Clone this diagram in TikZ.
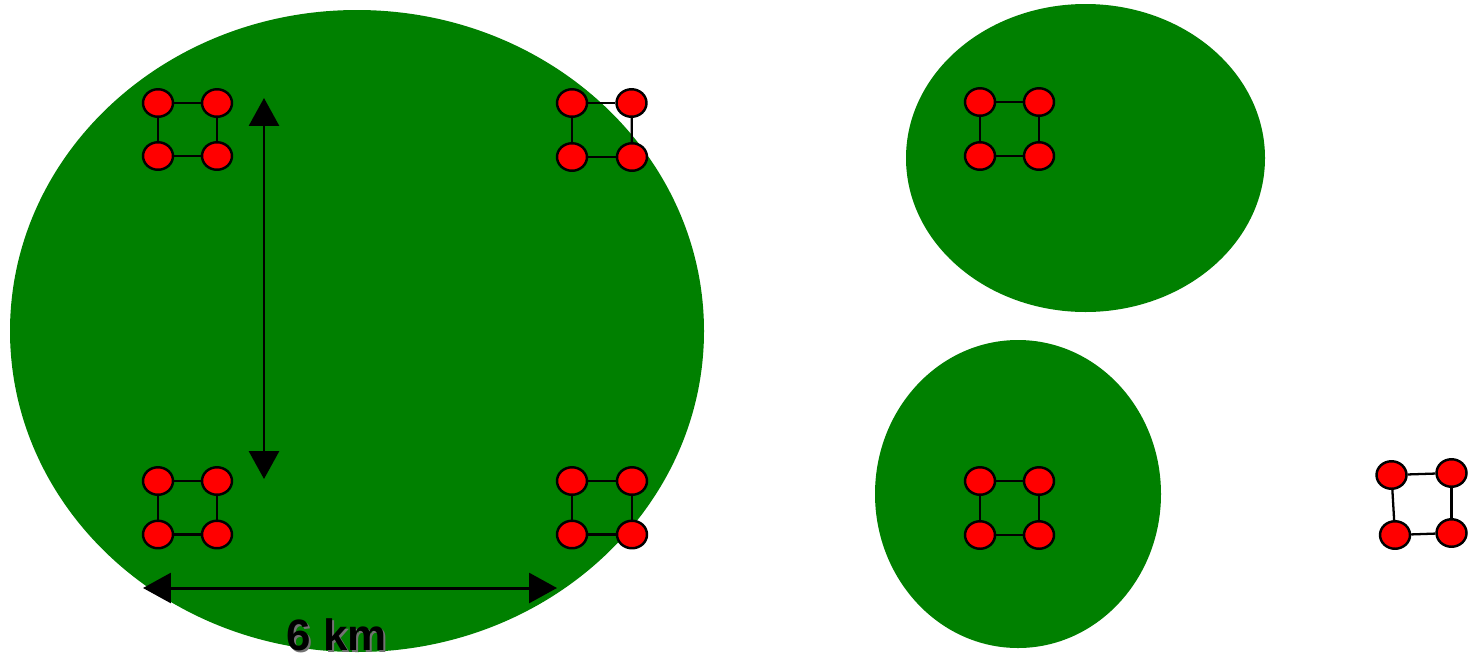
\documentclass[tikz,border=0pt]{standalone}
\usepackage{fontspec}
\setmainfont{Liberation Sans}
\usetikzlibrary{shapes.geometric,arrows.meta}
\definecolor{fieldgreen}{RGB}{0,128,0}
\tikzset{
  field/.style={fill=fieldgreen, draw=none},
  dot/.style={ellipse, draw=black, fill=red, line width=1.4pt, minimum width=0.6cm, minimum height=0.55cm, inner sep=0pt},
  link/.style={draw=black, line width=1.3pt},
  dim/.style={draw=black, line width=1.7pt, {Triangle[length=0.56cm,width=0.6cm]}-{Triangle[length=0.56cm,width=0.6cm]}},
  lbl/.style={font=\fontsize{25}{30}\selectfont\bfseries, inner sep=0pt}
}
\newcommand\mkcluster[9]{%
  \node[dot] (#1a) at (#2,#3) {};
  \node[dot] (#1b) at (#4,#5) {};
  \node[dot] (#1c) at (#6,#7) {};
  \node[dot] (#1d) at (#8,#9) {};
  \draw[link] (#1a) -- (#1b);
  \draw[link] (#1c) -- (#1d);
  \draw[link] (#1a) -- (#1c);
  \draw[link] (#1b) -- (#1d);
}
\begin{document}
\begin{tikzpicture}[x=0.02cm, y=-0.02cm]
\useasboundingbox (0,0) rectangle (1474,660);
% fields
\fill[field] (357,331) ellipse [x radius=347, y radius=321];
\fill[field] (1085.5,158) ellipse [x radius=179.5, y radius=154];
\fill[field] (1018,494) ellipse [x radius=143, y radius=154];
% clusters
\mkcluster{p}{158}{103}{217}{103}{158}{156}{217}{156}
\mkcluster{q}{572}{103}{631.5}{103}{572}{157}{632}{157}
\mkcluster{r}{158}{481}{217}{481}{158}{534.5}{217}{534.5}
\mkcluster{s}{572}{481}{632}{481}{572}{534.5}{632}{534.5}
\mkcluster{t}{980}{102}{1039}{102}{980}{156}{1039}{156}
\mkcluster{u}{980}{481}{1039}{481}{980}{535}{1039}{535}
\mkcluster{v}{1391.5}{475}{1451.5}{473}{1395}{535}{1451.5}{533}
% dimension arrows
\coordinate (vtop) at (264,98);
\coordinate (vbot) at (264,479);
\coordinate (hleft) at (143,588);
\coordinate (hright) at (557,588);
\draw[dim] (vtop) -- (vbot);
\draw[dim] (hleft) -- (hright);
% label with shadow
\node[lbl, text=black!55] (kmshadow) at (339,637) {6 km};
\node[lbl, text=black] (km) at (337,635) {6 km};
\end{tikzpicture}
\end{document}
